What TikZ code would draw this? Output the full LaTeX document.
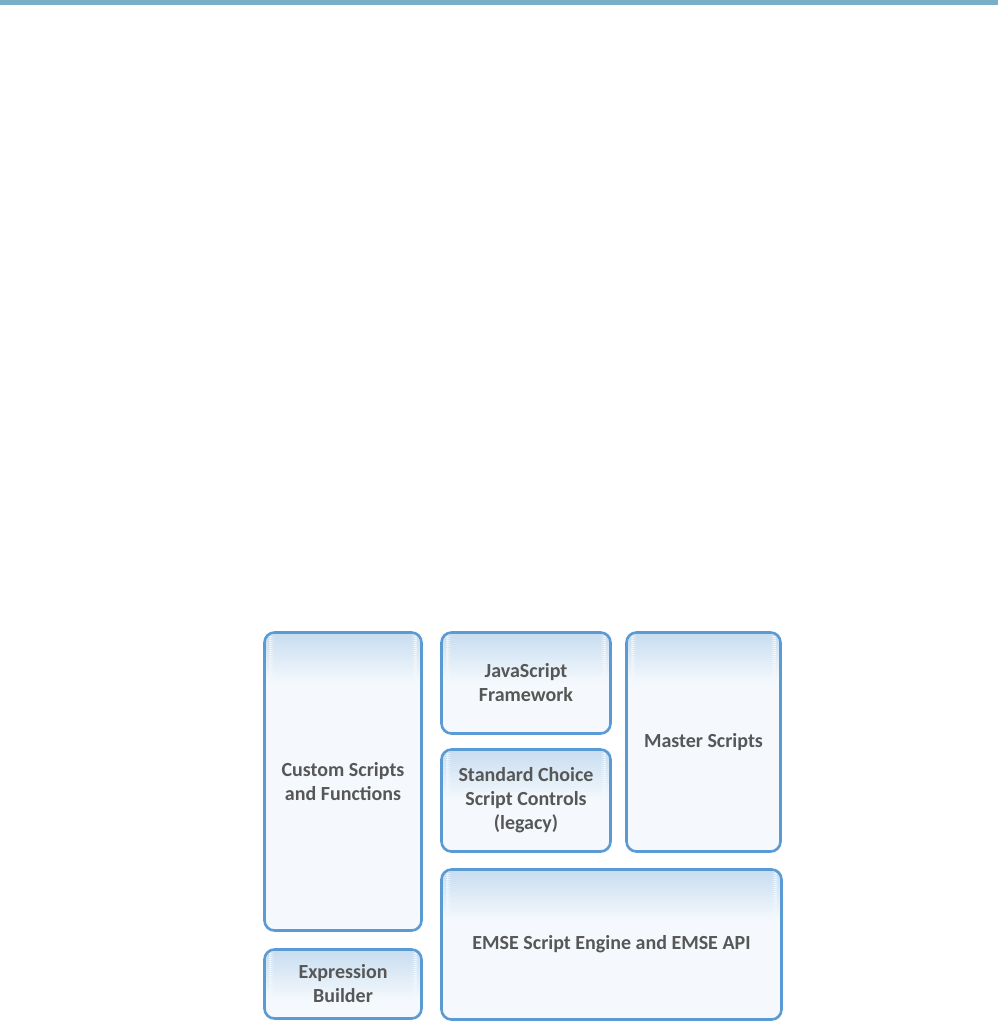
\documentclass[tikz,border=0pt]{standalone}
\usepackage{fontspec}
\setmainfont{Carlito}
\usetikzlibrary{shadows}
\definecolor{barcol}{HTML}{78AFC6}
\definecolor{edgecol}{HTML}{5B9BD5}
\definecolor{topfill}{HTML}{C8DDF0}
\definecolor{basefill}{HTML}{F5F9FD}
\definecolor{txtcol}{HTML}{575757}
\begin{document}
\begin{tikzpicture}[x=1pt,y=-1pt,
  blockbox/.style={draw=edgecol, line width=2.6pt, rounded corners=10pt,
    fill=basefill, inner sep=0pt, align=center, text=txtcol,
    font=\fontsize{20}{24}\selectfont\bfseries,
    drop shadow={opacity=0.12, shadow xshift=0.5pt, shadow yshift=-1.5pt},
    path picture={
      \foreach \i in {0,...,24} {
        \pgfmathsetmacro\pc{100-4*\i}
        \pgfmathsetmacro\ya{-2*\i}
        \pgfmathsetmacro\yb{-2*\i-2.3}
        \fill[topfill!\pc!basefill]
          ([yshift=\ya pt]path picture bounding box.north west) rectangle
          ([yshift=\yb pt]path picture bounding box.north east);
      }}}]
\useasboundingbox (0,0) rectangle (998,1034);
\fill[barcol] (0,0) rectangle (998,4.5);
\node[blockbox, minimum width=157pt, minimum height=298pt] (cust) at (343,781.5) {Custom Scripts\\and Functions};
\node[blockbox, minimum width=157pt, minimum height=69pt] (expr) at (343,984) {Expression\\Builder};
\node[blockbox, minimum width=169pt, minimum height=101pt] (js) at (526,683) {JavaScript\\Framework};
\node[blockbox, minimum width=169pt, minimum height=102pt] (std) at (526,800.5) {Standard Choice\\Script Controls\\(legacy)};
\node[blockbox, minimum width=154pt, minimum height=219pt] (mast) at (703.5,742) {Master Scripts};
\node[blockbox, minimum width=340pt, minimum height=150pt] (emse) at (611.5,944.5) {EMSE Script Engine and EMSE API};
\end{tikzpicture}
\end{document}
